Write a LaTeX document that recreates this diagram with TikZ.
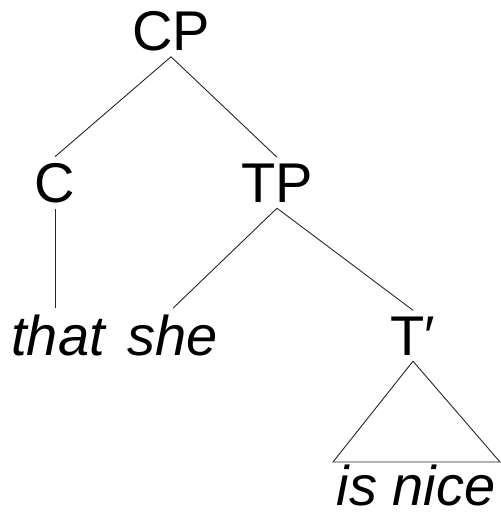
\documentclass[tikz,border=0pt]{standalone}
\usepackage{fontspec}
\setmainfont{Liberation Sans}
\begin{document}
\begin{tikzpicture}[x=1pt,y=-1pt,
  lbl/.style={anchor=base,inner xsep=0pt,inner ysep=6pt,font=\fontsize{56}{60}\selectfont},
  word/.style={lbl,font=\fontsize{56}{60}\selectfont\itshape},
  branch/.style={line width=0.9pt,draw=black!85}]
\useasboundingbox (0,0) rectangle (501,515);
\node[lbl] (CP) at (171,50) {CP};
\node[lbl] (C) at (55,202) {C};
\node[lbl] (TP) at (277,202) {TP};
\node[word] (that) at (58,355) {that};
\node[word] (she) at (173,355) {she};
\node[lbl] (Tbar) at (413,355) {T′};
\node[word,inner ysep=5pt] (isnice) at (416,505) {is nice};
\coordinate (bl) at (333,462);
\coordinate (br) at (500,462);
\draw[branch] (CP.south) -- (C.north);
\draw[branch] (CP.south) -- (TP.north);
\draw[branch] (C.south) -- (C.south |- that.north);
\draw[branch] (TP.south) -- (she.north);
\draw[branch] (TP.south) -- (Tbar.north);
\draw[branch] (Tbar.south) -- (bl) -- (br) -- cycle;
\end{tikzpicture}
\end{document}
